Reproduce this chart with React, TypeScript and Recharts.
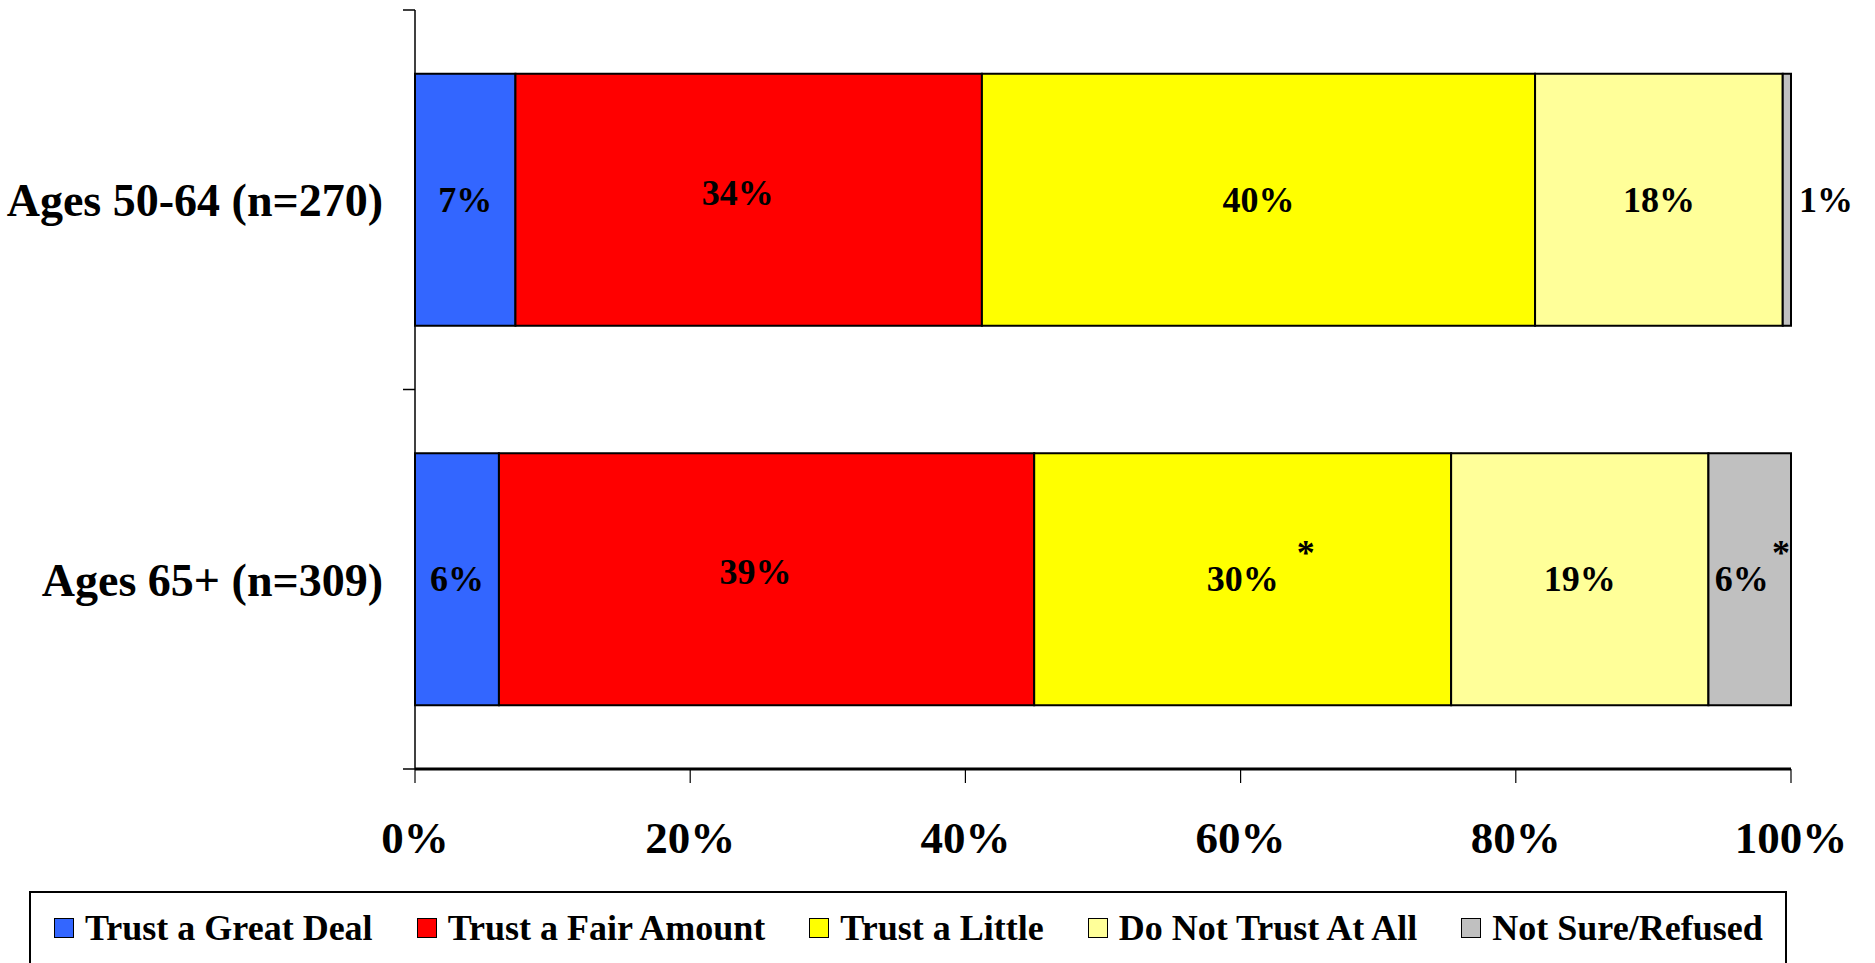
import React from "react";
import {
  BarChart, Bar, XAxis, YAxis, LabelList,
} from "recharts";

const categories = ["Ages 50-64 (n=270)", "Ages 65+ (n=309)"];

// share of respondents, %
const greatDeal = [7.3, 6.1];
const fairAmount = [33.9, 38.9];
const little = [40.2, 30.3];
const notAtAll = [18.0, 18.7];
const notSure = [0.6, 6.0];

// statistically significant difference marker
const littleStar = [false, true];
const notSureStar = [false, true];

const xTicks = [0, 20, 40, 60, 80, 100];
// band edges of the category axis, as a fraction of its length
const edgeTicks = [0, 0.5, 1];

const series = [
  { key: "greatDeal", name: "Trust a Great Deal", color: "#3366FF", values: greatDeal, stars: [false, false] },
  { key: "fairAmount", name: "Trust a Fair Amount", color: "#FF0000", values: fairAmount, stars: [false, false] },
  { key: "little", name: "Trust a Little", color: "#FFFF00", values: little, stars: littleStar },
  { key: "notAtAll", name: "Do Not Trust At All", color: "#FFFF99", values: notAtAll, stars: [false, false] },
  { key: "notSure", name: "Not Sure/Refused", color: "#C0C0C0", values: notSure, stars: notSureStar },
];

const data = categories.map((cat, i) => {
  const row: any = { cat };
  series.forEach(s => { row[s.key] = s.values[i]; });
  return row;
});

const FONT = "'Times New Roman', 'Liberation Serif', serif";

function textWidth(str: string, size: number) {
  let w = 0;
  for (const ch of str) w += ch === "%" ? 1 : 0.5;
  return w * size;
}

function makeLabel(stars: boolean[], dx: number, dy: number) {
  return (props: any) => {
    const { x, y, width, height, value, index } = props;
    const txt = `${Math.round(value)}%`;
    const cy = y + height / 2 + dy;
    const small = width < 30;
    let cx = small ? x + width + 8 : x + width / 2 + dx;
    const tw = textWidth(txt, 36);
    const end = small ? cx + tw : cx + tw / 2;
    let starX = end + 18;
    if (stars[index] && starX > x + width - 19) {
      starX = x + width - 19;
      cx -= 8;
    }
    return (
      <g>
        <text x={cx} y={cy} textAnchor={small ? "start" : "middle"} dominantBaseline="central"
          fontFamily={FONT} fontWeight="bold" fontSize={36} fill="#000">{txt}</text>
        {stars[index] && (
          <text x={starX} y={cy - 26} textAnchor="start" dominantBaseline="central"
            fontFamily={FONT} fontWeight="bold" fontSize={36} fill="#000">*</text>
        )}
      </g>
    );
  };
}

function LegendBox() {
  return (
    <div style={{
      position: "absolute", left: 29, top: 891, width: 1758, height: 72,
      borderTop: "2px solid #000", borderLeft: "2px solid #000", borderRight: "2px solid #000",
      boxSizing: "border-box", display: "flex", alignItems: "center", paddingLeft: 23,
      fontFamily: FONT, fontWeight: "bold", fontSize: 36, color: "#000",
    }}>
      {series.map(s => (
        <div key={s.key} style={{ display: "flex", alignItems: "center", marginRight: 44 }}>
          <span style={{
            display: "inline-block", width: 18, height: 18, background: s.color,
            border: "1.5px solid #000", marginRight: 11,
          }} />
          <span style={{ whiteSpace: "nowrap" }}>{s.name}</span>
        </div>
      ))}
    </div>
  );
}

export default function App() {
  return (
    <div style={{ position: "absolute", left: 0, top: 0, width: 1875, height: 963, background: "#fff" }}>
      <BarChart
        width={1875}
        height={963}
        data={data}
        layout="vertical"
        barCategoryGap="16.8%"
        margin={{ top: 10, right: 84, bottom: 84, left: 0 }}
      >
        <XAxis
          type="number"
          domain={[0, 100]}
          ticks={xTicks}
          tickFormatter={v => `${v}%`}
          height={110}
          tickSize={14}
          tickMargin={38}
          axisLine={{ stroke: "#000", strokeWidth: 3 }}
          tickLine={{ stroke: "#000", strokeWidth: 1.2 }}
          tick={{ fontFamily: FONT, fontWeight: "bold", fontSize: 45, fill: "#000" }}
        />
        <YAxis
          yAxisId="a"
          type="number"
          scale="linear"
          domain={[0, 1]}
          allowDataOverflow
          ticks={edgeTicks}
          interval={0}
          width={1}
          tickSize={12}
          stroke="#000"
          strokeWidth={1.5}
          axisLine
          tickLine
          tick={() => <g />}
        />
        <YAxis
          yAxisId="b"
          type="category"
          dataKey="cat"
          width={414}
          axisLine={false}
          tickLine={false}
          tickSize={0}
          tickMargin={31}
          tick={{ fontFamily: FONT, fontWeight: "bold", fontSize: 46, fill: "#000" }}
        />
        {series.map(s => (
          <Bar
            key={s.key}
            yAxisId="b"
            dataKey={s.key}
            name={s.name}
            stackId="a"
            fill={s.color}
            stroke="#000"
            strokeWidth={2}
            isAnimationActive={false}
          >
            <LabelList
              dataKey={s.key}
              content={makeLabel(s.stars, s.key === "fairAmount" ? -11 : 0, s.key === "fairAmount" ? -7 : 0)}
            />
          </Bar>
        ))}
      </BarChart>
      <LegendBox />
    </div>
  );
}
